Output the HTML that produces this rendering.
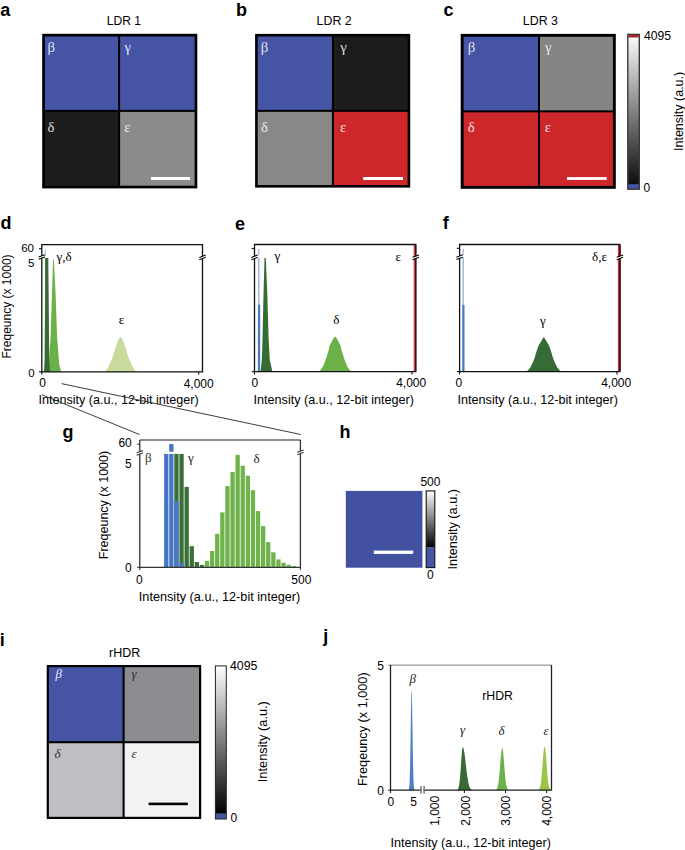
<!DOCTYPE html>
<html><head><meta charset="utf-8"><style>
html,body{margin:0;padding:0;background:#fff;width:685px;height:850px;overflow:hidden}
svg{display:block}
</style></head><body>
<svg width="685" height="850" viewBox="0 0 685 850">
<text x="0.3" y="15.8" style="font-family:'Liberation Sans',sans-serif;font-size:18px;font-weight:bold;font-style:normal" text-anchor="start" fill="#000">a</text>
<text x="236.0" y="15.7" style="font-family:'Liberation Sans',sans-serif;font-size:18px;font-weight:bold;font-style:normal" text-anchor="start" fill="#000">b</text>
<text x="443.6" y="15.8" style="font-family:'Liberation Sans',sans-serif;font-size:18px;font-weight:bold;font-style:normal" text-anchor="start" fill="#000">c</text>
<text x="0.6" y="229.4" style="font-family:'Liberation Sans',sans-serif;font-size:18px;font-weight:bold;font-style:normal" text-anchor="start" fill="#000">d</text>
<text x="235.1" y="229.6" style="font-family:'Liberation Sans',sans-serif;font-size:18px;font-weight:bold;font-style:normal" text-anchor="start" fill="#000">e</text>
<text x="442.7" y="229.3" style="font-family:'Liberation Sans',sans-serif;font-size:18px;font-weight:bold;font-style:normal" text-anchor="start" fill="#000">f</text>
<text x="62.6" y="438.2" style="font-family:'Liberation Sans',sans-serif;font-size:18px;font-weight:bold;font-style:normal" text-anchor="start" fill="#000">g</text>
<text x="339.6" y="438.4" style="font-family:'Liberation Sans',sans-serif;font-size:18px;font-weight:bold;font-style:normal" text-anchor="start" fill="#000">h</text>
<text x="-0.2" y="646" style="font-family:'Liberation Sans',sans-serif;font-size:18px;font-weight:bold;font-style:normal" text-anchor="start" fill="#000">i</text>
<text x="323.3" y="642.2" style="font-family:'Liberation Sans',sans-serif;font-size:18px;font-weight:bold;font-style:normal" text-anchor="start" fill="#000">j</text>
<rect x="42.2" y="33.8" width="155.10000000000002" height="154.60000000000002" fill="#000"/>
<rect x="44.900000000000006" y="36.5" width="73.19999999999999" height="73.4" fill="#4554a4"/>
<rect x="120.1" y="36.5" width="74.50000000000003" height="73.4" fill="#4554a4"/>
<rect x="44.900000000000006" y="111.9" width="73.19999999999999" height="73.80000000000001" fill="#1c1c1c"/>
<rect x="120.1" y="111.9" width="74.50000000000003" height="73.80000000000001" fill="#8b8b8b"/>
<text x="47.45" y="51.7" style="font-family:'Liberation Serif',serif;font-size:14.8px;font-weight:normal;font-style:normal" text-anchor="start" fill="#fff" fill-opacity="0.86">β</text>
<text x="124.6" y="51.7" style="font-family:'Liberation Serif',serif;font-size:14.8px;font-weight:normal;font-style:normal" text-anchor="start" fill="#fff" fill-opacity="0.86">γ</text>
<text x="47.44" y="131.9" style="font-family:'Liberation Serif',serif;font-size:14.8px;font-weight:normal;font-style:normal" text-anchor="start" fill="#fff" fill-opacity="0.86">δ</text>
<text x="124.2" y="131.9" style="font-family:'Liberation Serif',serif;font-size:14.8px;font-weight:normal;font-style:normal" text-anchor="start" fill="#fff" fill-opacity="0.86">ε</text>
<rect x="151" y="177" width="39" height="3" fill="#fff"/>
<text x="106.7" y="24.7" style="font-family:'Liberation Sans',sans-serif;font-size:12.1px;font-weight:normal;font-style:normal" text-anchor="start" fill="#000">LDR 1</text>
<rect x="255.1" y="33.9" width="155.1" height="153.7" fill="#000"/>
<rect x="257.7" y="36.5" width="74.19999999999999" height="73.35" fill="#4554a4"/>
<rect x="333.9" y="36.5" width="73.69999999999999" height="73.35" fill="#1c1c1c"/>
<rect x="257.7" y="111.85" width="74.19999999999999" height="73.15" fill="#888888"/>
<rect x="333.9" y="111.85" width="73.69999999999999" height="73.15" fill="#cd272c"/>
<text x="260.65" y="51.7" style="font-family:'Liberation Serif',serif;font-size:14.8px;font-weight:normal;font-style:normal" text-anchor="start" fill="#fff" fill-opacity="0.86">β</text>
<text x="340.3" y="51.7" style="font-family:'Liberation Serif',serif;font-size:14.8px;font-weight:normal;font-style:normal" text-anchor="start" fill="#fff" fill-opacity="0.86">γ</text>
<text x="261.04" y="131.9" style="font-family:'Liberation Serif',serif;font-size:14.8px;font-weight:normal;font-style:normal" text-anchor="start" fill="#fff" fill-opacity="0.86">δ</text>
<text x="340.1" y="132.0" style="font-family:'Liberation Serif',serif;font-size:14.8px;font-weight:normal;font-style:normal" text-anchor="start" fill="#fff" fill-opacity="0.86">ε</text>
<rect x="363.2" y="177.0" width="39.8" height="3.0" fill="#fff"/>
<text x="316.6" y="24.6" style="font-family:'Liberation Sans',sans-serif;font-size:12.4px;font-weight:normal;font-style:normal" text-anchor="start" fill="#000">LDR 2</text>
<rect x="460.7" y="33.9" width="155.09999999999997" height="154.9" fill="#000"/>
<rect x="463.59999999999997" y="36.8" width="74.40000000000003" height="73.55" fill="#4554a4"/>
<rect x="540.0" y="36.8" width="72.89999999999998" height="73.55" fill="#858585"/>
<rect x="463.59999999999997" y="112.35" width="74.40000000000003" height="73.55000000000001" fill="#cd272c"/>
<rect x="540.0" y="112.35" width="72.89999999999998" height="73.55000000000001" fill="#cd272c"/>
<text x="467.85" y="51.8" style="font-family:'Liberation Serif',serif;font-size:14.8px;font-weight:normal;font-style:normal" text-anchor="start" fill="#fff" fill-opacity="0.86">β</text>
<text x="545.0" y="51.8" style="font-family:'Liberation Serif',serif;font-size:14.8px;font-weight:normal;font-style:normal" text-anchor="start" fill="#fff" fill-opacity="0.86">γ</text>
<text x="467.74" y="131.9" style="font-family:'Liberation Serif',serif;font-size:14.8px;font-weight:normal;font-style:normal" text-anchor="start" fill="#fff" fill-opacity="0.86">δ</text>
<text x="544.8" y="131.9" style="font-family:'Liberation Serif',serif;font-size:14.8px;font-weight:normal;font-style:normal" text-anchor="start" fill="#fff" fill-opacity="0.86">ε</text>
<rect x="567" y="177.1" width="39.7" height="2.8" fill="#fff"/>
<text x="522.8" y="24.7" style="font-family:'Liberation Sans',sans-serif;font-size:12.4px;font-weight:normal;font-style:normal" text-anchor="start" fill="#000">LDR 3</text>
<defs><linearGradient id="gbw" x1="0" y1="0" x2="0" y2="1"><stop offset="0" stop-color="#ffffff"/><stop offset="1" stop-color="#050505"/></linearGradient></defs>
<rect x="627.8" y="34.4" width="11.5" height="154.8" fill="url(#gbw)" stroke="#3a3a3a" stroke-width="1.4"/>
<rect x="628.3" y="34.9" width="10.5" height="2.6" fill="#a8262c"/>
<rect x="628.3" y="184.2" width="10.5" height="4.5" fill="#4554a4"/>
<text x="644.0" y="39.7" style="font-family:'Liberation Sans',sans-serif;font-size:12.2px;font-weight:normal;font-style:normal" text-anchor="start" fill="#000">4095</text>
<text x="643.6" y="192.4" style="font-family:'Liberation Sans',sans-serif;font-size:12px;font-weight:normal;font-style:normal" text-anchor="start" fill="#000">0</text>
<text x="682.8" y="151" style="font-family:'Liberation Sans',sans-serif;font-size:12.5px;font-weight:normal;font-style:normal" text-anchor="start" fill="#000" transform="rotate(-90 682.8 151)">Intensity (a.u.)</text>
<path d="M104.20,371.80 L105.75,370.76 L108.00,367.66 L110.05,363.10 L112.25,358.16 L114.50,350.92 L116.20,345.46 L118.35,339.99 L120.00,337.00 L121.00,337.00 L122.65,339.99 L124.80,345.46 L126.50,350.92 L128.75,358.16 L130.95,363.10 L133.00,367.66 L135.25,370.76 L136.80,371.80 Z" fill="#c7dc9c"/>
<path d="M47.6,371.8 L48.6,364.7 L50.5,338 L52,294 L53.0,259.6 L53.8,259.6 L55.6,294 L57.1,338 L59.3,364.7 L61.0,371.8 Z" fill="#6cb048"/>
<path d="M44.0,371.8 L44.6,360 L45.1,290 L45.1,258.1 L48.3,258.1 L48.6,290 L49.2,360 L50.0,371.8 Z" fill="#356b34"/>
<line x1="45.3" y1="248.8" x2="45.3" y2="256" stroke="#9fb6e0" stroke-width="0.9"/>
<path d="M41.8,244.6 L202.5,244.6 L202.5,371.8 L41.8,371.8 Z" fill="none" stroke="#111" stroke-width="1.3"/>
<line x1="39.0" y1="248.7" x2="41.8" y2="248.7" stroke="#111" stroke-width="1.1"/>
<line x1="39.0" y1="371.8" x2="41.8" y2="371.8" stroke="#111" stroke-width="1.1"/>
<line x1="41.8" y1="371.8" x2="41.8" y2="374.6" stroke="#111" stroke-width="1.1"/>
<line x1="198.7" y1="371.8" x2="198.7" y2="374.6" stroke="#111" stroke-width="1.1"/>
<polygon points="38.599999999999994,259.34999999999997 45.0,256.95 45.0,254.65 38.599999999999994,257.05" fill="#fff"/>
<line x1="38.599999999999994" y1="259.34999999999997" x2="45.0" y2="256.95" stroke="#000" stroke-width="1.1"/>
<line x1="38.599999999999994" y1="257.05" x2="45.0" y2="254.65" stroke="#000" stroke-width="1.1"/>
<polygon points="199.3,259.74999999999994 205.7,257.34999999999997 205.7,255.05 199.3,257.45" fill="#fff"/>
<line x1="199.3" y1="259.74999999999994" x2="205.7" y2="257.34999999999997" stroke="#000" stroke-width="1.1"/>
<line x1="199.3" y1="257.45" x2="205.7" y2="255.05" stroke="#000" stroke-width="1.1"/>
<text x="34.0" y="252.0" style="font-family:'Liberation Sans',sans-serif;font-size:11.5px;font-weight:normal;font-style:normal" text-anchor="end" fill="#000">60</text>
<text x="34.4" y="267.2" style="font-family:'Liberation Sans',sans-serif;font-size:11.5px;font-weight:normal;font-style:normal" text-anchor="end" fill="#000">5</text>
<text x="34.7" y="377.0" style="font-family:'Liberation Sans',sans-serif;font-size:11.5px;font-weight:normal;font-style:normal" text-anchor="end" fill="#000">0</text>
<text x="42.5" y="386.9" style="font-family:'Liberation Sans',sans-serif;font-size:12px;font-weight:normal;font-style:normal" text-anchor="middle" fill="#000">0</text>
<text x="198.7" y="387.5" style="font-family:'Liberation Sans',sans-serif;font-size:12px;font-weight:normal;font-style:normal" text-anchor="middle" fill="#000">4,000</text>
<text x="56.6" y="261.0" style="font-family:'Liberation Serif',serif;font-size:13px;font-weight:normal;font-style:normal" text-anchor="start" fill="#000">γ,δ</text>
<text x="118.8" y="324.0" style="font-family:'Liberation Serif',serif;font-size:13px;font-weight:normal;font-style:normal" text-anchor="start" fill="#000">ε</text>
<text x="38.4" y="404.0" style="font-family:'Liberation Sans',sans-serif;font-size:12.6px;font-weight:normal;font-style:normal" text-anchor="start" fill="#000">Intensity (a.u., 12-bit integer)</text>
<text x="11.0" y="358.5" style="font-family:'Liberation Sans',sans-serif;font-size:12px;font-weight:normal;font-style:normal" text-anchor="start" fill="#000" transform="rotate(-90 11.0 358.5)">Freqeuncy (x 1000)</text>
<path d="M318.60,371.60 L320.10,370.55 L322.55,367.34 L324.50,362.88 L326.20,357.99 L328.50,350.66 L329.70,345.46 L332.50,340.05 L334.60,336.70 L335.60,336.70 L337.70,340.05 L340.50,345.46 L341.70,350.66 L344.00,357.99 L345.70,362.88 L347.65,367.34 L350.10,370.55 L351.60,371.60 Z" fill="#6cb048"/>
<path d="M260.6,371.6 L261.8,360 L262.5,338 L263.5,294 L264.5,258.1 L265.8,258.1 L267.3,294 L268.6,338 L269.8,360 L272.4,371.6 Z" fill="#356b34"/>
<rect x="257.9" y="304.4" width="2.3" height="67.20000000000005" fill="#4a7cc4"/>
<rect x="258.1" y="249.0" width="1.3" height="6.2" fill="#a9bad6"/>
<rect x="258.0" y="257.8" width="1.5" height="46.599999999999966" fill="#9ab8e2"/>
<rect x="413.7" y="244.5" width="1.1" height="127.10000000000002" fill="#b0383c"/>
<path d="M254.5,244.5 L415.7,244.5 L415.7,371.6 L254.5,371.6 Z" fill="none" stroke="#111" stroke-width="1.3"/>
<line x1="251.7" y1="248.5" x2="254.5" y2="248.5" stroke="#111" stroke-width="1.1"/>
<line x1="251.7" y1="371.6" x2="254.5" y2="371.6" stroke="#111" stroke-width="1.1"/>
<line x1="254.5" y1="371.6" x2="254.5" y2="374.40000000000003" stroke="#111" stroke-width="1.1"/>
<line x1="412.0" y1="371.6" x2="412.0" y2="374.40000000000003" stroke="#111" stroke-width="1.1"/>
<line x1="415.59999999999997" y1="244.5" x2="415.59999999999997" y2="371.6" stroke="#5a0a0e" stroke-width="1.6"/>
<polygon points="251.3,259.74999999999994 257.7,257.34999999999997 257.7,255.05 251.3,257.45" fill="#fff"/>
<line x1="251.3" y1="259.74999999999994" x2="257.7" y2="257.34999999999997" stroke="#000" stroke-width="1.1"/>
<line x1="251.3" y1="257.45" x2="257.7" y2="255.05" stroke="#000" stroke-width="1.1"/>
<polygon points="412.5,259.65 418.9,257.25 418.9,254.95000000000005 412.5,257.35" fill="#fff"/>
<line x1="412.5" y1="259.65" x2="418.9" y2="257.25" stroke="#000" stroke-width="1.1"/>
<line x1="412.5" y1="257.35" x2="418.9" y2="254.95000000000005" stroke="#000" stroke-width="1.1"/>
<text x="254.8" y="386.9" style="font-family:'Liberation Sans',sans-serif;font-size:12px;font-weight:normal;font-style:normal" text-anchor="middle" fill="#000">0</text>
<text x="411.2" y="387.2" style="font-family:'Liberation Sans',sans-serif;font-size:12px;font-weight:normal;font-style:normal" text-anchor="middle" fill="#000">4,000</text>
<text x="274.4" y="259.6" style="font-family:'Liberation Serif',serif;font-size:13px;font-weight:normal;font-style:normal" text-anchor="start" fill="#000">γ</text>
<text x="333.2" y="324.3" style="font-family:'Liberation Serif',serif;font-size:13px;font-weight:normal;font-style:normal" text-anchor="start" fill="#000">δ</text>
<text x="395.4" y="260.6" style="font-family:'Liberation Serif',serif;font-size:13px;font-weight:normal;font-style:normal" text-anchor="start" fill="#000">ε</text>
<text x="253.6" y="403.6" style="font-family:'Liberation Sans',sans-serif;font-size:12.6px;font-weight:normal;font-style:normal" text-anchor="start" fill="#000">Intensity (a.u., 12-bit integer)</text>
<path d="M526.30,371.60 L527.80,370.57 L530.50,367.33 L532.55,363.05 L534.60,357.92 L536.65,351.08 L538.55,345.44 L541.65,340.48 L543.30,337.40 L544.30,337.40 L545.95,340.48 L549.05,345.44 L550.95,351.08 L553.00,357.92 L555.05,363.05 L557.10,367.33 L559.80,370.57 L561.30,371.60 Z" fill="#356b34"/>
<rect x="462.2" y="305" width="2.3" height="66.60000000000002" fill="#4a7cc4"/>
<rect x="462.6" y="248.8" width="1.3" height="6.4" fill="#a9bad6"/>
<rect x="462.4" y="257.3" width="1.5" height="47.69999999999999" fill="#9ab8e2"/>
<rect x="617.9" y="244.5" width="1.1" height="127.10000000000002" fill="#b0383c"/>
<path d="M459.6,244.5 L619.9,244.5 L619.9,371.6 L459.6,371.6 Z" fill="none" stroke="#111" stroke-width="1.3"/>
<line x1="456.8" y1="248.3" x2="459.6" y2="248.3" stroke="#111" stroke-width="1.1"/>
<line x1="456.8" y1="371.6" x2="459.6" y2="371.6" stroke="#111" stroke-width="1.1"/>
<line x1="459.6" y1="371.6" x2="459.6" y2="374.40000000000003" stroke="#111" stroke-width="1.1"/>
<line x1="617.0" y1="371.6" x2="617.0" y2="374.40000000000003" stroke="#111" stroke-width="1.1"/>
<line x1="619.8" y1="244.5" x2="619.8" y2="371.6" stroke="#5a0a0e" stroke-width="1.6"/>
<polygon points="456.40000000000003,259.54999999999995 462.8,257.15 462.8,254.85000000000002 456.40000000000003,257.25" fill="#fff"/>
<line x1="456.40000000000003" y1="259.54999999999995" x2="462.8" y2="257.15" stroke="#000" stroke-width="1.1"/>
<line x1="456.40000000000003" y1="257.25" x2="462.8" y2="254.85000000000002" stroke="#000" stroke-width="1.1"/>
<polygon points="616.6999999999999,259.65 623.1,257.25 623.1,254.95000000000005 616.6999999999999,257.35" fill="#fff"/>
<line x1="616.6999999999999" y1="259.65" x2="623.1" y2="257.25" stroke="#000" stroke-width="1.1"/>
<line x1="616.6999999999999" y1="257.35" x2="623.1" y2="254.95000000000005" stroke="#000" stroke-width="1.1"/>
<text x="458.8" y="386.9" style="font-family:'Liberation Sans',sans-serif;font-size:12px;font-weight:normal;font-style:normal" text-anchor="middle" fill="#000">0</text>
<text x="616.2" y="387.2" style="font-family:'Liberation Sans',sans-serif;font-size:12px;font-weight:normal;font-style:normal" text-anchor="middle" fill="#000">4,000</text>
<text x="540.0" y="324.7" style="font-family:'Liberation Serif',serif;font-size:13px;font-weight:normal;font-style:normal" text-anchor="start" fill="#000">γ</text>
<text x="592.0" y="260.8" style="font-family:'Liberation Serif',serif;font-size:13px;font-weight:normal;font-style:normal" text-anchor="start" fill="#000">δ,ε</text>
<text x="457.6" y="403.6" style="font-family:'Liberation Sans',sans-serif;font-size:12.6px;font-weight:normal;font-style:normal" text-anchor="start" fill="#000">Intensity (a.u., 12-bit integer)</text>
<line x1="61.5" y1="383.6" x2="300.8" y2="434.5" stroke="#333" stroke-width="0.95"/>
<line x1="41.9" y1="394.7" x2="139.4" y2="434.5" stroke="#333" stroke-width="0.95"/>
<rect x="164.1" y="453.9" width="4.3" height="113.4" fill="#4676c6"/>
<rect x="169.2" y="453.9" width="4.3" height="113.4" fill="#4676c6"/>
<rect x="174.3" y="453.9" width="4.3" height="113.4" fill="#3a6f37"/>
<rect x="179.4" y="453.9" width="4.3" height="113.4" fill="#3a6f37"/>
<rect x="184.5" y="486.9" width="4.3" height="80.4" fill="#3a6f37"/>
<rect x="189.6" y="546.2" width="4.3" height="21.1" fill="#3a6f37"/>
<rect x="194.7" y="562.0" width="4.3" height="5.3" fill="#3a6f37"/>
<rect x="199.8" y="564.9" width="4.3" height="2.4" fill="#3a6f37"/>
<rect x="204.9" y="560.9" width="4.3" height="6.4" fill="#70b34c"/>
<rect x="210.0" y="551.0" width="4.3" height="16.3" fill="#70b34c"/>
<rect x="215.1" y="533.8" width="4.3" height="33.5" fill="#70b34c"/>
<rect x="220.2" y="512.4" width="4.3" height="54.9" fill="#70b34c"/>
<rect x="225.3" y="486.1" width="4.3" height="81.2" fill="#70b34c"/>
<rect x="230.4" y="472.1" width="4.3" height="95.2" fill="#70b34c"/>
<rect x="235.5" y="454.8" width="4.3" height="112.5" fill="#70b34c"/>
<rect x="240.6" y="465.8" width="4.3" height="101.5" fill="#70b34c"/>
<rect x="245.7" y="475.7" width="4.3" height="91.6" fill="#70b34c"/>
<rect x="250.8" y="490.2" width="4.3" height="77.1" fill="#70b34c"/>
<rect x="255.9" y="511.1" width="4.3" height="56.2" fill="#70b34c"/>
<rect x="261.0" y="526.1" width="4.3" height="41.2" fill="#70b34c"/>
<rect x="266.1" y="542.1" width="4.3" height="25.2" fill="#70b34c"/>
<rect x="271.2" y="552.3" width="4.3" height="15.0" fill="#70b34c"/>
<rect x="276.3" y="559.4" width="4.3" height="7.9" fill="#70b34c"/>
<rect x="281.4" y="562.7" width="4.3" height="4.6" fill="#70b34c"/>
<rect x="286.5" y="564.8" width="4.3" height="2.5" fill="#70b34c"/>
<rect x="291.6" y="566.0" width="4.3" height="1.3" fill="#70b34c"/>
<rect x="174.3" y="501.0" width="4.3" height="66.3" fill="#4676c6"/>
<rect x="179.4" y="563.0" width="4.3" height="4.3" fill="#4676c6"/>
<rect x="169.2" y="444.1" width="4.3" height="7.6" fill="#4676c6"/>
<path d="M139.8,440.0 L300.4,440.0" stroke="#666" stroke-width="1.4" fill="none"/>
<path d="M139.8,440.0 L139.8,567.3 L300.4,567.3 L300.4,440.0" stroke="#333" stroke-width="1.3" fill="none"/>
<line x1="137.20000000000002" y1="444.2" x2="139.8" y2="444.2" stroke="#333" stroke-width="1.1"/>
<line x1="137.20000000000002" y1="567.3" x2="139.8" y2="567.3" stroke="#333" stroke-width="1.1"/>
<line x1="139.8" y1="567.3" x2="139.8" y2="569.9" stroke="#333" stroke-width="1.1"/>
<line x1="300.4" y1="567.3" x2="300.4" y2="569.9" stroke="#333" stroke-width="1.1"/>
<polygon points="136.60000000000002,455.15 143.0,452.75 143.0,450.45000000000005 136.60000000000002,452.85" fill="#fff"/>
<line x1="136.60000000000002" y1="455.15" x2="143.0" y2="452.75" stroke="#333" stroke-width="1.1"/>
<line x1="136.60000000000002" y1="452.85" x2="143.0" y2="450.45000000000005" stroke="#333" stroke-width="1.1"/>
<polygon points="297.2,454.65 303.59999999999997,452.25 303.59999999999997,449.95000000000005 297.2,452.35" fill="#fff"/>
<line x1="297.2" y1="454.65" x2="303.59999999999997" y2="452.25" stroke="#333" stroke-width="1.1"/>
<line x1="297.2" y1="452.35" x2="303.59999999999997" y2="449.95000000000005" stroke="#333" stroke-width="1.1"/>
<text x="131.8" y="447.4" style="font-family:'Liberation Sans',sans-serif;font-size:12px;font-weight:normal;font-style:normal" text-anchor="end" fill="#000">60</text>
<text x="131.8" y="468.3" style="font-family:'Liberation Sans',sans-serif;font-size:12px;font-weight:normal;font-style:normal" text-anchor="end" fill="#000">5</text>
<text x="131.8" y="571.6" style="font-family:'Liberation Sans',sans-serif;font-size:12px;font-weight:normal;font-style:normal" text-anchor="end" fill="#000">0</text>
<text x="139.3" y="583.7" style="font-family:'Liberation Sans',sans-serif;font-size:12px;font-weight:normal;font-style:normal" text-anchor="middle" fill="#000">0</text>
<text x="301.3" y="583.7" style="font-family:'Liberation Sans',sans-serif;font-size:12px;font-weight:normal;font-style:normal" text-anchor="middle" fill="#000">500</text>
<text x="145.0" y="462.0" style="font-family:'Liberation Serif',serif;font-size:13px;font-weight:normal;font-style:normal" text-anchor="start" fill="#333">β</text>
<text x="188.0" y="462.0" style="font-family:'Liberation Serif',serif;font-size:13px;font-weight:normal;font-style:normal" text-anchor="start" fill="#222">γ</text>
<text x="253.4" y="462.6" style="font-family:'Liberation Serif',serif;font-size:13px;font-weight:normal;font-style:normal" text-anchor="start" fill="#222">δ</text>
<text x="138.8" y="600.5" style="font-family:'Liberation Sans',sans-serif;font-size:12.7px;font-weight:normal;font-style:normal" text-anchor="start" fill="#000">Intensity (a.u., 12-bit integer)</text>
<text x="108.0" y="559.2" style="font-family:'Liberation Sans',sans-serif;font-size:12.5px;font-weight:normal;font-style:normal" text-anchor="start" fill="#000" transform="rotate(-90 108.0 559.2)">Freqeuncy (x 1000)</text>
<rect x="345.8" y="490.9" width="76.6" height="76.8" fill="#4351a1"/>
<rect x="373.8" y="550.6" width="39.4" height="3.3" fill="#fff"/>
<defs><linearGradient id="gbw2" x1="0" y1="0" x2="0" y2="1"><stop offset="0" stop-color="#ffffff"/><stop offset="1" stop-color="#000"/></linearGradient></defs>
<rect x="426.2" y="490.9" width="8.6" height="56.6" fill="url(#gbw2)"/>
<rect x="426.2" y="547.4" width="8.6" height="20.2" fill="#4554a4"/>
<rect x="426.2" y="490.9" width="8.6" height="76.7" fill="none" stroke="#111" stroke-width="1.1"/>
<text x="430.4" y="486.4" style="font-family:'Liberation Sans',sans-serif;font-size:12px;font-weight:normal;font-style:normal" text-anchor="middle" fill="#000">500</text>
<text x="430.3" y="579.2" style="font-family:'Liberation Sans',sans-serif;font-size:12px;font-weight:normal;font-style:normal" text-anchor="middle" fill="#000">0</text>
<text x="457.5" y="569.4" style="font-family:'Liberation Sans',sans-serif;font-size:12.7px;font-weight:normal;font-style:normal" text-anchor="start" fill="#000" transform="rotate(-90 457.5 569.4)">Intensity (a.u.)</text>
<rect x="46.7" y="665.0" width="154.5" height="154.0" fill="#000"/>
<rect x="48.900000000000006" y="667.2" width="73.64999999999999" height="73.95000000000005" fill="#4554a4"/>
<rect x="124.64999999999999" y="667.2" width="74.35000000000001" height="73.95000000000005" fill="#8c8d90"/>
<rect x="48.900000000000006" y="743.25" width="73.64999999999999" height="73.54999999999995" fill="#bebfc2"/>
<rect x="124.64999999999999" y="743.25" width="74.35000000000001" height="73.54999999999995" fill="#f2f2f2"/>
<text x="55.6" y="677.8" style="font-family:'Liberation Serif',serif;font-size:13px;font-weight:normal;font-style:italic" text-anchor="start" fill="#e8ecf8">β</text>
<text x="131.4" y="677.8" style="font-family:'Liberation Serif',serif;font-size:13px;font-weight:normal;font-style:italic" text-anchor="start" fill="#333">γ</text>
<text x="54.6" y="757.8" style="font-family:'Liberation Serif',serif;font-size:13px;font-weight:normal;font-style:italic" text-anchor="start" fill="#333">δ</text>
<text x="131.6" y="757.6" style="font-family:'Liberation Serif',serif;font-size:13px;font-weight:normal;font-style:italic" text-anchor="start" fill="#333">ε</text>
<rect x="148.6" y="802.6" width="39.2" height="2.6" fill="#000"/>
<text x="109.0" y="657.0" style="font-family:'Liberation Sans',sans-serif;font-size:12.5px;font-weight:normal;font-style:normal" text-anchor="start" fill="#000">rHDR</text>
<rect x="215.4" y="665.9" width="10.9" height="147.9" fill="url(#gbw2)"/>
<rect x="215.4" y="813.8" width="10.9" height="5.2" fill="#4554a4"/>
<rect x="215.4" y="665.9" width="10.9" height="153.1" fill="none" stroke="#222" stroke-width="1.0"/>
<text x="230.0" y="670.0" style="font-family:'Liberation Sans',sans-serif;font-size:12.3px;font-weight:normal;font-style:normal" text-anchor="start" fill="#000">4095</text>
<text x="230.4" y="821.8" style="font-family:'Liberation Sans',sans-serif;font-size:12px;font-weight:normal;font-style:normal" text-anchor="start" fill="#000">0</text>
<text x="267.2" y="782.2" style="font-family:'Liberation Sans',sans-serif;font-size:12.8px;font-weight:normal;font-style:normal" text-anchor="start" fill="#000" transform="rotate(-90 267.2 782.2)">Intensity (a.u.)</text>
<path d="M408.80,790.2 L408.80,789.41 L408.88,789.17 L408.95,788.86 L409.03,788.48 L409.11,788.01 L409.19,787.44 L409.26,786.73 L409.34,785.88 L409.42,784.86 L409.50,783.64 L409.57,782.21 L409.65,780.54 L409.73,778.60 L409.81,776.38 L409.88,773.86 L409.96,771.02 L410.04,767.85 L410.12,764.35 L410.19,760.52 L410.27,756.37 L410.35,751.93 L410.43,747.23 L410.50,742.30 L410.58,737.21 L410.66,732.01 L410.74,726.77 L410.81,721.57 L410.89,716.49 L410.97,711.62 L411.05,707.04 L411.12,702.85 L411.20,699.13 L411.28,695.95 L411.36,693.38 L411.44,691.47 L411.51,690.27 L411.59,689.81 L411.67,690.08 L411.75,691.09 L411.82,692.82 L411.90,695.23 L411.98,698.25 L412.06,701.84 L412.13,705.92 L412.21,710.40 L412.29,715.21 L412.37,720.24 L412.44,725.42 L412.52,730.66 L412.60,735.88 L412.68,741.00 L412.75,745.98 L412.83,750.74 L412.91,755.25 L412.99,759.48 L413.06,763.39 L413.14,766.98 L413.22,770.23 L413.30,773.16 L413.37,775.76 L413.45,778.06 L413.53,780.07 L413.61,781.80 L413.68,783.30 L413.76,784.56 L413.84,785.63 L413.92,786.53 L413.99,787.27 L414.07,787.88 L414.15,788.37 L414.23,788.77 L414.30,789.09 L414.38,789.35 L414.46,789.55 L414.54,789.71 L414.61,789.83 L414.69,789.92 L414.77,789.99 L414.85,790.05 L414.92,790.09 L415.00,790.12 L415.00,790.2 Z" fill="#4f7fc4"/>
<path d="M455.00,790.2 L455.00,790.20 L455.23,790.19 L455.45,790.19 L455.68,790.18 L455.90,790.17 L456.12,790.16 L456.35,790.13 L456.57,790.09 L456.80,790.03 L457.02,789.95 L457.25,789.83 L457.48,789.66 L457.70,789.42 L457.93,789.10 L458.15,788.67 L458.38,788.11 L458.60,787.37 L458.82,786.45 L459.05,785.29 L459.27,783.88 L459.50,782.19 L459.73,780.21 L459.95,777.92 L460.18,775.35 L460.40,772.52 L460.62,769.48 L460.85,766.29 L461.07,763.03 L461.30,759.81 L461.52,756.74 L461.75,753.93 L461.98,751.49 L462.20,749.52 L462.43,748.12 L462.65,747.35 L462.88,747.21 L463.10,747.41 L463.32,747.85 L463.55,748.52 L463.77,749.41 L464.00,750.51 L464.23,751.79 L464.45,753.24 L464.68,754.83 L464.90,756.54 L465.12,758.35 L465.35,760.24 L465.57,762.17 L465.80,764.12 L466.02,766.07 L466.25,768.00 L466.48,769.89 L466.70,771.73 L466.93,773.49 L467.15,775.17 L467.38,776.76 L467.60,778.24 L467.82,779.63 L468.05,780.90 L468.27,782.07 L468.50,783.13 L468.73,784.08 L468.95,784.94 L469.18,785.70 L469.40,786.38 L469.62,786.97 L469.85,787.48 L470.07,787.93 L470.30,788.31 L470.52,788.64 L470.75,788.92 L470.98,789.15 L471.20,789.35 L471.43,789.51 L471.65,789.65 L471.88,789.76 L472.10,789.85 L472.32,789.92 L472.55,789.98 L472.77,790.03 L473.00,790.07 L473.00,790.2 Z" fill="#376b33"/>
<path d="M495.50,790.2 L495.50,790.05 L495.67,790.00 L495.84,789.93 L496.01,789.85 L496.18,789.75 L496.34,789.62 L496.51,789.46 L496.68,789.26 L496.85,789.02 L497.02,788.73 L497.19,788.37 L497.36,787.95 L497.52,787.45 L497.69,786.87 L497.86,786.18 L498.03,785.39 L498.20,784.49 L498.37,783.46 L498.54,782.31 L498.71,781.02 L498.88,779.60 L499.04,778.05 L499.21,776.37 L499.38,774.57 L499.55,772.66 L499.72,770.65 L499.89,768.57 L500.06,766.44 L500.23,764.28 L500.39,762.13 L500.56,760.02 L500.73,757.97 L500.90,756.04 L501.07,754.24 L501.24,752.61 L501.41,751.20 L501.57,750.01 L501.74,749.08 L501.91,748.43 L502.08,748.07 L502.25,748.01 L502.42,748.25 L502.59,748.78 L502.76,749.60 L502.93,750.68 L503.09,752.01 L503.26,753.55 L503.43,755.28 L503.60,757.17 L503.77,759.17 L503.94,761.26 L504.11,763.41 L504.27,765.56 L504.44,767.71 L504.61,769.81 L504.78,771.85 L504.95,773.80 L505.12,775.65 L505.29,777.38 L505.46,778.99 L505.62,780.46 L505.79,781.80 L505.96,783.01 L506.13,784.09 L506.30,785.04 L506.47,785.87 L506.64,786.60 L506.81,787.23 L506.98,787.76 L507.14,788.21 L507.31,788.59 L507.48,788.91 L507.65,789.17 L507.82,789.38 L507.99,789.56 L508.16,789.70 L508.32,789.81 L508.49,789.90 L508.66,789.97 L508.83,790.03 L509.00,790.07 L509.00,790.2 Z" fill="#6cb049"/>
<path d="M538.00,790.2 L538.00,790.01 L538.16,789.96 L538.33,789.88 L538.49,789.79 L538.65,789.68 L538.81,789.54 L538.98,789.37 L539.14,789.16 L539.30,788.90 L539.46,788.59 L539.62,788.23 L539.79,787.79 L539.95,787.28 L540.11,786.69 L540.27,786.00 L540.44,785.21 L540.60,784.31 L540.76,783.30 L540.92,782.16 L541.09,780.89 L541.25,779.50 L541.41,777.98 L541.58,776.34 L541.74,774.58 L541.90,772.71 L542.06,770.75 L542.23,768.71 L542.39,766.61 L542.55,764.48 L542.71,762.33 L542.88,760.21 L543.04,758.14 L543.20,756.15 L543.36,754.28 L543.52,752.55 L543.69,751.00 L543.85,749.65 L544.01,748.54 L544.17,747.67 L544.34,747.07 L544.50,746.75 L544.66,746.72 L544.83,746.97 L544.99,747.51 L545.15,748.31 L545.31,749.37 L545.48,750.67 L545.64,752.18 L545.80,753.87 L545.96,755.71 L546.12,757.67 L546.29,759.73 L546.45,761.84 L546.61,763.98 L546.77,766.12 L546.94,768.23 L547.10,770.28 L547.26,772.27 L547.42,774.16 L547.59,775.94 L547.75,777.62 L547.91,779.16 L548.08,780.59 L548.24,781.88 L548.40,783.05 L548.56,784.09 L548.73,785.01 L548.89,785.83 L549.05,786.54 L549.21,787.16 L549.38,787.68 L549.54,788.13 L549.70,788.52 L549.86,788.84 L550.02,789.10 L550.19,789.32 L550.35,789.50 L550.51,789.65 L550.67,789.77 L550.84,789.86 L551.00,789.94 L551.00,790.2 Z" fill="#9cc548"/>
<path d="M388.5,665.1 L551.5,665.1" stroke="#999" stroke-width="1.2" fill="none"/>
<path d="M390.5,665.1 L390.5,790.2 L551.5,790.2 L551.5,665.1" stroke="#222" stroke-width="1.3" fill="none"/>
<line x1="388.1" y1="790.2" x2="390.5" y2="790.2" stroke="#222" stroke-width="1.1"/>
<line x1="390.5" y1="790.2" x2="390.5" y2="793.0" stroke="#222" stroke-width="1.1"/>
<line x1="464.4" y1="790.2" x2="464.4" y2="793.0" stroke="#222" stroke-width="1.1"/>
<line x1="505.5" y1="790.2" x2="505.5" y2="793.0" stroke="#222" stroke-width="1.1"/>
<line x1="546.6" y1="790.2" x2="546.6" y2="793.0" stroke="#222" stroke-width="1.1"/>
<rect x="421.6" y="788.8" width="1.8" height="2.8" fill="#fff"/>
<rect x="420.2" y="786.0" width="1.5" height="7.7" fill="#777"/>
<rect x="423.4" y="786.0" width="1.5" height="7.7" fill="#777"/>
<text x="383.9" y="669.6" style="font-family:'Liberation Sans',sans-serif;font-size:12px;font-weight:normal;font-style:normal" text-anchor="end" fill="#000">5</text>
<text x="383.9" y="794.5" style="font-family:'Liberation Sans',sans-serif;font-size:12px;font-weight:normal;font-style:normal" text-anchor="end" fill="#000">0</text>
<text x="390.8" y="806.3" style="font-family:'Liberation Sans',sans-serif;font-size:12px;font-weight:normal;font-style:normal" text-anchor="middle" fill="#000">0</text>
<text x="413.7" y="806.3" style="font-family:'Liberation Sans',sans-serif;font-size:12px;font-weight:normal;font-style:normal" text-anchor="middle" fill="#000">5</text>
<text x="439.2" y="795.8" style="font-family:'Liberation Sans',sans-serif;font-size:12px;font-weight:normal;font-style:normal" text-anchor="end" fill="#000" transform="rotate(-90 439.2 795.8)">1,000</text>
<text x="469.8" y="795.8" style="font-family:'Liberation Sans',sans-serif;font-size:12px;font-weight:normal;font-style:normal" text-anchor="end" fill="#000" transform="rotate(-90 469.8 795.8)">2,000</text>
<text x="509.8" y="795.8" style="font-family:'Liberation Sans',sans-serif;font-size:12px;font-weight:normal;font-style:normal" text-anchor="end" fill="#000" transform="rotate(-90 509.8 795.8)">3,000</text>
<text x="551.2" y="795.8" style="font-family:'Liberation Sans',sans-serif;font-size:12px;font-weight:normal;font-style:normal" text-anchor="end" fill="#000" transform="rotate(-90 551.2 795.8)">4,000</text>
<text x="409.6" y="682.8" style="font-family:'Liberation Serif',serif;font-size:13px;font-weight:normal;font-style:italic" text-anchor="start" fill="#222">β</text>
<text x="460.0" y="734.0" style="font-family:'Liberation Serif',serif;font-size:13px;font-weight:normal;font-style:italic" text-anchor="start" fill="#222">γ</text>
<text x="498.6" y="734.7" style="font-family:'Liberation Serif',serif;font-size:13px;font-weight:normal;font-style:italic" text-anchor="start" fill="#222">δ</text>
<text x="543.4" y="734.7" style="font-family:'Liberation Serif',serif;font-size:13px;font-weight:normal;font-style:italic" text-anchor="start" fill="#222">ε</text>
<text x="482.2" y="699.7" style="font-family:'Liberation Sans',sans-serif;font-size:12.3px;font-weight:normal;font-style:normal" text-anchor="start" fill="#000">rHDR</text>
<text x="366.6" y="785.9" style="font-family:'Liberation Sans',sans-serif;font-size:12.7px;font-weight:normal;font-style:normal" text-anchor="start" fill="#000" transform="rotate(-90 366.6 785.9)">Freqeuncy (x 1,000)</text>
<text x="390.6" y="847.0" style="font-family:'Liberation Sans',sans-serif;font-size:12.6px;font-weight:normal;font-style:normal" text-anchor="start" fill="#000">Intensity (a.u., 12-bit integer)</text>
</svg>
</body></html>
